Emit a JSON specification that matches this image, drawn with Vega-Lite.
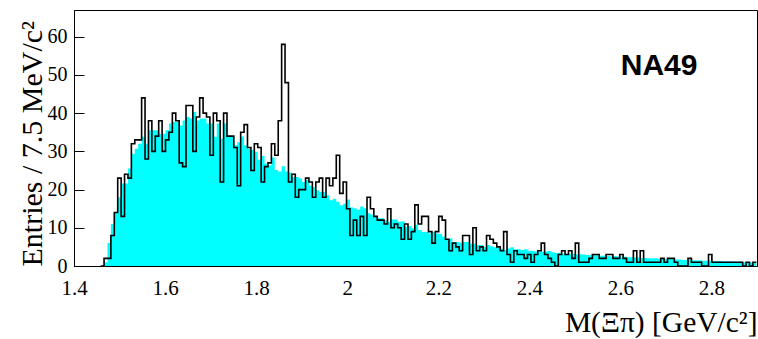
{
  "$schema": "https://vega.github.io/schema/vega-lite/v6.json",
  "autosize": {"type": "none"},
  "width": 683,
  "height": 256,
  "padding": {"left": 74, "top": 10, "right": 1, "bottom": 73},
  "background": "white",
  "config": {
    "view": {"stroke": "black", "strokeWidth": 1},
    "axis": {
      "domainColor": "black",
      "tickColor": "black",
      "labelColor": "black",
      "titleColor": "black",
      "labelFont": "Liberation Serif",
      "titleFont": "Liberation Serif",
      "titleFontWeight": "normal",
      "grid": false
    }
  },
  "data": {
    "values": [
      {"m":1.4585,"n":0,"b":0},
      {"m":1.466,"n":2,"b":1},{"m":1.4735,"n":2,"b":6},{"m":1.481,"n":8,"b":11},{"m":1.4885,"n":14,"b":14},{"m":1.496,"n":23,"b":18},
      {"m":1.5035,"n":13,"b":21.6},{"m":1.511,"n":24,"b":21.6},{"m":1.5185,"n":23,"b":25.5},{"m":1.526,"n":32,"b":29.4},{"m":1.5335,"n":33,"b":30.7},
      {"m":1.541,"n":33,"b":32},{"m":1.5485,"n":44,"b":33.8},{"m":1.556,"n":28,"b":32},{"m":1.5635,"n":38,"b":35.5},{"m":1.571,"n":30,"b":35.5},
      {"m":1.5785,"n":34,"b":35.5},{"m":1.586,"n":38,"b":34.6},{"m":1.5935,"n":30,"b":34.6},{"m":1.601,"n":33,"b":35.5},{"m":1.6085,"n":35,"b":37.3},
      {"m":1.616,"n":40,"b":37.7},{"m":1.6235,"n":38,"b":37.7},{"m":1.631,"n":27,"b":36.8},{"m":1.6385,"n":26,"b":38.1},{"m":1.646,"n":42,"b":39},
      {"m":1.6535,"n":42,"b":38.6},{"m":1.661,"n":30,"b":40.3},{"m":1.6685,"n":39,"b":38.1},{"m":1.676,"n":44,"b":38.6},
      {"m":1.6835,"n":40,"b":38.6},{"m":1.691,"n":39,"b":37.3},{"m":1.6985,"n":29,"b":37.3},{"m":1.706,"n":40,"b":33.8},{"m":1.7135,"n":38,"b":37.3},
      {"m":1.721,"n":22,"b":33.3},{"m":1.7285,"n":40,"b":37.3},{"m":1.736,"n":34,"b":33.8},{"m":1.7435,"n":34,"b":33.8},{"m":1.751,"n":31,"b":31.6},
      {"m":1.7585,"n":21,"b":32.4},{"m":1.766,"n":35,"b":33.9},{"m":1.7735,"n":37,"b":31.6},{"m":1.781,"n":31,"b":30.7},{"m":1.7885,"n":25,"b":30.3},
      {"m":1.796,"n":32,"b":29.9},{"m":1.8035,"n":31,"b":27.8},{"m":1.811,"n":22,"b":28.8},{"m":1.8185,"n":26,"b":26.8},{"m":1.826,"n":27,"b":26.4},
      {"m":1.8335,"n":32,"b":28.4},{"m":1.841,"n":29,"b":25.1},{"m":1.8485,"n":38,"b":24.7},{"m":1.856,"n":58,"b":26.1},{"m":1.8635,"n":48,"b":24.7},
      {"m":1.871,"n":22,"b":24.4},{"m":1.8785,"n":24,"b":23.3},{"m":1.886,"n":18,"b":23.3},{"m":1.8935,"n":20,"b":22.9},{"m":1.901,"n":20,"b":22},
      {"m":1.9085,"n":23,"b":22.5},{"m":1.916,"n":22,"b":21},{"m":1.9235,"n":18,"b":20.6},{"m":1.931,"n":22,"b":19.8},{"m":1.9385,"n":23,"b":19.4},
      {"m":1.946,"n":18,"b":19.4},{"m":1.9535,"n":23,"b":18.5},{"m":1.961,"n":21,"b":17.2},{"m":1.9685,"n":23,"b":17.6},{"m":1.976,"n":29,"b":16.8},
      {"m":1.9835,"n":19,"b":15.9},{"m":1.991,"n":22,"b":16.3},{"m":1.9985,"n":15,"b":17.4},{"m":2.006,"n":8,"b":15.3},{"m":2.0135,"n":12,"b":15.1},
      {"m":2.021,"n":8,"b":14.7},{"m":2.0285,"n":13,"b":15.6},{"m":2.036,"n":8,"b":15.1},{"m":2.0435,"n":18,"b":13.8},{"m":2.051,"n":15,"b":13.5},
      {"m":2.0585,"n":13,"b":12.9},{"m":2.066,"n":12,"b":12.5},{"m":2.0735,"n":12,"b":12.5},{"m":2.081,"n":11,"b":12},{"m":2.0885,"n":15,"b":11.6},
      {"m":2.096,"n":10,"b":12.2},{"m":2.1035,"n":11,"b":12.2},{"m":2.111,"n":10,"b":11.6},{"m":2.1185,"n":7,"b":11.7},{"m":2.126,"n":11,"b":10.3},
      {"m":2.1335,"n":7,"b":10.5},{"m":2.141,"n":9,"b":9.9},{"m":2.1485,"n":16,"b":10.8},
      {"m":2.156,"n":11,"b":9.4},{"m":2.1635,"n":13,"b":8.9},{"m":2.171,"n":13,"b":8.9},{"m":2.1785,"n":9,"b":8.5},{"m":2.186,"n":6,"b":8.9},
      {"m":2.1935,"n":9,"b":8.5},{"m":2.201,"n":13,"b":8.4},{"m":2.2085,"n":12,"b":7.7},{"m":2.216,"n":7,"b":6.8},{"m":2.2235,"n":4,"b":7.2},
      {"m":2.231,"n":6,"b":6.3},{"m":2.2385,"n":5,"b":6.3},{"m":2.246,"n":4,"b":6.1},{"m":2.2535,"n":8,"b":6.3},{"m":2.261,"n":8,"b":6.3},
      {"m":2.2685,"n":3,"b":5.9},{"m":2.276,"n":10,"b":5.8},{"m":2.2835,"n":4,"b":5.5},{"m":2.291,"n":5,"b":5.5},{"m":2.2985,"n":4,"b":5},
      {"m":2.306,"n":8,"b":5.5},{"m":2.3135,"n":7,"b":5.2},{"m":2.321,"n":6,"b":4.9},{"m":2.3285,"n":5,"b":4.8},{"m":2.336,"n":4,"b":4.6},
      {"m":2.3435,"n":9,"b":4.2},{"m":2.351,"n":3,"b":4.6},{"m":2.3585,"n":1,"b":4.9},{"m":2.366,"n":4,"b":4.4},{"m":2.3735,"n":3,"b":4.4},
      {"m":2.381,"n":3,"b":4.2},{"m":2.3885,"n":2,"b":4.4},
      {"m":2.396,"n":3,"b":4},{"m":2.4035,"n":1,"b":4},{"m":2.411,"n":3,"b":3.8},{"m":2.4185,"n":4,"b":3.8},{"m":2.426,"n":6,"b":3.7},
      {"m":2.4335,"n":3,"b":3.8},{"m":2.441,"n":2,"b":3.9},{"m":2.4485,"n":1,"b":3.6},{"m":2.456,"n":0,"b":3.4},{"m":2.4635,"n":3,"b":3.5},
      {"m":2.471,"n":4,"b":3.3},{"m":2.4785,"n":3,"b":3.2},{"m":2.486,"n":4,"b":3.3},{"m":2.4935,"n":2,"b":3.2},{"m":2.501,"n":6,"b":3},
      {"m":2.5085,"n":1,"b":3.1},{"m":2.516,"n":1,"b":3},{"m":2.5235,"n":1,"b":2.9},{"m":2.531,"n":2,"b":2.8},{"m":2.5385,"n":3,"b":2.9},
      {"m":2.546,"n":3,"b":2.8},{"m":2.5535,"n":2,"b":2.7},{"m":2.561,"n":2,"b":2.7},{"m":2.5685,"n":3,"b":2.6},{"m":2.576,"n":3,"b":2.5},
      {"m":2.5835,"n":2,"b":2.6},{"m":2.591,"n":2,"b":2.5},{"m":2.5985,"n":3,"b":2.4},{"m":2.606,"n":2,"b":2.4},{"m":2.6135,"n":1,"b":2.3},
      {"m":2.621,"n":1,"b":2.3},{"m":2.6285,"n":4,"b":2.2},
      {"m":2.636,"n":1,"b":2.2},{"m":2.6435,"n":4,"b":2.1},{"m":2.651,"n":1,"b":2.1},{"m":2.6585,"n":1,"b":2},{"m":2.666,"n":1,"b":2},
      {"m":2.6735,"n":1,"b":2},{"m":2.681,"n":1,"b":1.9},{"m":2.6885,"n":2,"b":1.9},{"m":2.696,"n":1,"b":1.8},{"m":2.7035,"n":2,"b":1.8},
      {"m":2.711,"n":2,"b":1.8},{"m":2.7185,"n":1,"b":1.7},{"m":2.726,"n":0,"b":1.7},{"m":2.7335,"n":0,"b":1.6},{"m":2.741,"n":0,"b":1.6},
      {"m":2.7485,"n":2,"b":1.6},{"m":2.756,"n":1,"b":1.5},{"m":2.7635,"n":1,"b":1.5},{"m":2.771,"n":1,"b":1.5},{"m":2.7785,"n":0,"b":1.4},
      {"m":2.786,"n":0,"b":1.4},{"m":2.7935,"n":3,"b":1.4},{"m":2.801,"n":1,"b":1.3},{"m":2.8085,"n":1,"b":1.3},{"m":2.816,"n":1,"b":1.3},
      {"m":2.8235,"n":1,"b":1.2},{"m":2.831,"n":1,"b":1.2},{"m":2.8385,"n":1,"b":1.2},{"m":2.846,"n":1,"b":1.1},{"m":2.8535,"n":1,"b":1.1},
      {"m":2.861,"n":1,"b":1.1},{"m":2.8685,"n":0,"b":1},{"m":2.876,"n":1,"b":1},{"m":2.8835,"n":0,"b":1},{"m":2.891,"n":1,"b":1},
      {"m":2.8985,"n":1,"b":1}
    ]
  },
  "encoding": {
    "x": {
      "field": "m",
      "type": "quantitative",
      "scale": {"domain": [1.4, 2.9], "nice": false, "zero": false},
      "axis": {
        "title": "M(Ξπ) [GeV/c²]",
        "values": [1.4, 1.6, 1.8, 2.0, 2.2, 2.4, 2.6, 2.8],
        "format": "~g",
        "labelFontSize": 21,
        "labelPadding": 21,
        "labelFlush": false,
        "tickSize": -10,
        "titleFontSize": 29.5,
        "titleAnchor": "end",
        "titleAlign": "right",
        "titlePadding": 10
      }
    },
    "y": {
      "type": "quantitative",
      "scale": {"domain": [0, 67], "nice": false},
      "axis": {
        "title": "Entries / 7.5 MeV/c²",
        "values": [0, 10, 20, 30, 40, 50, 60],
        "labelFontSize": 20,
        "labelPadding": 17,
        "tickSize": -10,
        "titleFontSize": 30,
        "titleAnchor": "start",
        "titlePadding": 0
      }
    }
  },
  "layer": [
    {
      "mark": {"type": "area", "interpolate": "step-after", "color": "#00FFFF", "clip": true},
      "encoding": {"y": {"field": "b", "type": "quantitative"}}
    },
    {
      "mark": {"type": "line", "interpolate": "step-after", "color": "black", "strokeWidth": 1.6, "clip": true},
      "encoding": {"y": {"field": "n", "type": "quantitative"}}
    },
    {
      "data": {"values": [{"m": 2.685, "v": 52.3, "t": "NA49"}]},
      "mark": {"type": "text", "font": "Liberation Sans", "fontWeight": "bold", "fontSize": 30, "align": "center", "baseline": "middle", "color": "black"},
      "encoding": {
        "y": {"field": "v", "type": "quantitative"},
        "text": {"field": "t"}
      }
    }
  ]
}
